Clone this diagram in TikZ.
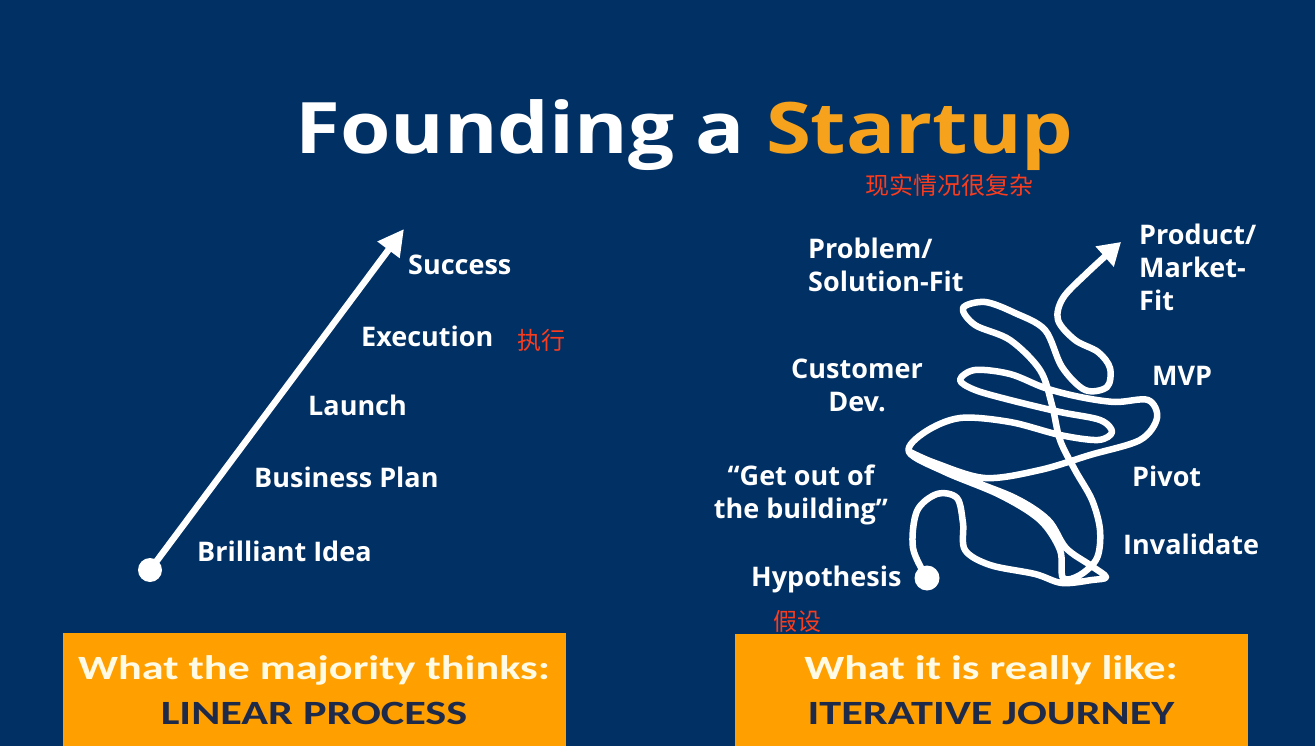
\documentclass[tikz,border=0pt]{standalone}
\usepackage{fontspec}
\setmainfont{Open Sans}
\newfontfamily\boxfont{Carlito}
\newfontfamily\cjk{Noto Sans CJK SC}
\usetikzlibrary{arrows.meta}
\definecolor{bg}{RGB}{0,48,100}
\definecolor{startor}{RGB}{247,162,28}
\definecolor{boxor}{RGB}{255,160,0}
\definecolor{boxdark}{RGB}{30,42,74}
\definecolor{boxlight}{RGB}{255,250,228}
\definecolor{anno}{RGB}{250,60,30}
\tikzset{
  lbl/.style={text=white,font=\fontsize{27}{33}\selectfont\bfseries,inner sep=0pt},
  note/.style={text=anno,font=\fontsize{24}{28}\selectfont\cjk,inner sep=0pt},
  panel/.style={fill=boxor,draw=none},
  boxtop/.style={text=boxlight,font=\fontsize{34}{40}\selectfont\boxfont\bfseries,inner sep=0pt},
  boxbot/.style={text=boxdark,font=\fontsize{34}{40}\selectfont\boxfont\bfseries,inner sep=0pt},
  dot/.style={circle,fill=white,inner sep=0pt},
  wline/.style={draw=white,line width=6.5pt,line cap=round,line join=round},
}
\begin{document}
\begin{tikzpicture}[x=1pt,y=-1pt]
\fill[bg] (0,0) rectangle (1315,746);
\useasboundingbox (0,0) rectangle (1315,746);

% title
\node[anchor=base west,inner sep=0pt,text=white,font=\fontsize{71}{80}\selectfont\bfseries] (title) at (295,154) {\scalebox{1.15}[1]{Founding a \textcolor{startor}{Startup}}};
\node[note] (n1) at (949,185) {现实情况很复杂};

% left: linear
\node[dot,minimum size=24pt] (idea) at (150,570) {};
\coordinate (succ) at (404,229);
\draw[wline,-{Triangle[length=26pt,width=26pt]}] (idea.center) -- (succ);
\node[lbl,anchor=base west] (l1) at (408,275) {Success};
\node[lbl,anchor=base west] (l2) at (361,346) {Execution};
\node[note] (n2) at (541,340) {执行};
\node[lbl,anchor=base west] (l3) at (308,415) {Launch};
\node[lbl,anchor=base west] (l4) at (254,487) {Business Plan};
\node[lbl,anchor=base west] (l5) at (197,561) {Brilliant Idea};

% right: iterative
\node[lbl,anchor=west,align=left] (r1) at (808,265) {Problem/\\Solution-Fit};
\node[lbl,anchor=west,align=left] (r2) at (1139,267) {Product/\\Market-\\Fit};
\node[lbl,anchor=center,align=center] (r3) at (857,385) {Customer\\Dev.};
\node[lbl,anchor=base west] (r4) at (1152,385) {MVP};
\node[lbl,anchor=center,align=center] (r5) at (801,495) {“Get out of\\the building”};
\node[lbl,anchor=base west] (r6) at (1132,486) {Pivot};
\node[lbl,anchor=base west] (r7) at (1123,554) {Invalidate};
\node[lbl,anchor=base west] (r8) at (751,586) {Hypothesis};
\node[note] (n3) at (797,621) {假设};

\node[dot,minimum size=25pt] (hyp) at (927,578) {};
\draw[wline,-{Triangle[length=22pt,width=26pt]}] plot[smooth,tension=0.55] coordinates {
 (927,578) (913,548) (917,511) (937,494) (957,498) (963,523) (965,550)
 (990,565) (1035,574) (1062,583) (1092,580) (1106,577) (1090,565)
 (1066,548) (1048,520) (1015,498) (960,476) (910,452)
 (935,463) (985,478) (1040,470) (1090,455) (1140,440) (1157,418)
 (1148,400) (1115,402) (1080,397) (1045,388) (1010,374) (975,370)
 (960,380) (975,390) (1010,400) (1060,412) (1100,420) (1112,432)
 (1098,440) (1060,435) (1010,422) (960,418) (925,432) (909,452)
 (945,472) (1000,495) (1040,520) (1060,550) (1063,578)
 (1080,575) (1097,558) (1100,530) (1092,500) (1075,470) (1060,440)
 (1052,405) (1040,370) (1010,340) (975,325) (963,308) (985,302)
 (1015,313) (1045,330) (1062,367) (1085,390) (1107,387) (1110,368)
 (1098,352) (1075,340) (1058,320) (1063,298) (1087,273) (1121,242)
};

% bottom panels
\fill[panel] (63,633) rectangle (566,746);
\fill[panel] (735,634) rectangle (1248,746);
\node[boxtop,anchor=base] (b1) at (314,679) {\scalebox{1.3}[1]{What the majority thinks:}};
\node[boxbot,anchor=base] (b2) at (314,724) {\scalebox{1.3}[1]{LINEAR PROCESS}};
\node[boxtop,anchor=base] (b3) at (991,679) {\scalebox{1.3}[1]{What it is really like:}};
\node[boxbot,anchor=base] (b4) at (991,724) {\scalebox{1.3}[1]{ITERATIVE JOURNEY}};
\end{tikzpicture}
\end{document}
